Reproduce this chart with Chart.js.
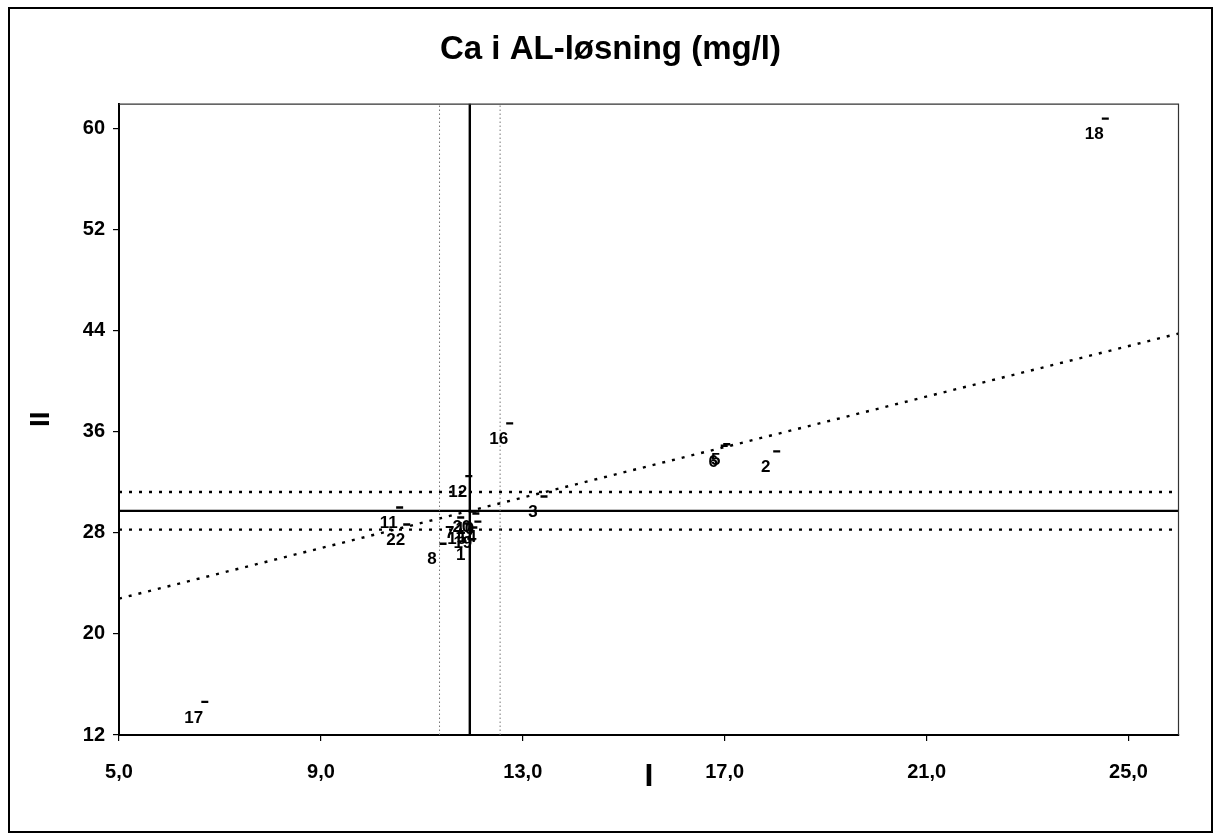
<!DOCTYPE html>
<html><head><meta charset="utf-8">
<script src="https://cdn.jsdelivr.net/npm/chart.js@4.4.1/dist/chart.umd.min.js"></script>
<style>html,body{margin:0;padding:0;background:#fff;} #wrap{position:relative;width:1221px;height:840px;}</style>
</head><body><div id="wrap"><canvas id="c" width="1221" height="840"></canvas></div>
<script>
// ---- data (Youden plot) ----
const labIds   = ['1','2','3','5','6','7','8','10','11','12','14','15','16','17','18','19','20','22'];
const valuesI  = [11.99,18.03,13.42,17.04,16.99,11.77,11.42,12.07,10.56,11.93,12.11,11.91,12.74,6.70,24.54,12.03,12.01,10.70];
const valuesII = [27.48,34.46,30.89,35.02,34.90,29.22,27.14,29.54,30.02,32.50,28.90,28.75,36.68,14.62,60.81,28.43,29.70,28.67];

const xTicks = [5,9,13,17,21,25];
const yTicks = [12,20,28,36,44,52,60];
const xRange = [5,26];
const yRange = [12,62];

const centerI = [11.95];          // solid vertical line
const limitsI = [11.35, 12.55];   // dotted vertical lines
const centerII = [29.75];         // solid horizontal line
const limitsII = [28.26, 31.24];  // dotted horizontal lines
const diagI  = [5, 26];           // 45-degree dotted line
const diagII = [22.8, 43.8];

const FONT = "'Liberation Sans', Arial, sans-serif";

function vLine(x, style){ return Object.assign({type:'scatter', showLine:true, pointRadius:0, data:[{x:x,y:yRange[0]},{x:x,y:yRange[1]}]}, style); }
function hLine(y, style){ return Object.assign({type:'scatter', showLine:true, pointRadius:0, data:[{x:xRange[0],y:y},{x:xRange[1],y:y}]}, style); }

const datasets = [{
  label:'labs',
  data: valuesI.map((v,i)=>({x:v, y:valuesII[i]})),
  pointStyle:'line', pointRadius:3.5, pointBorderWidth:2.4,
  borderColor:'#000', backgroundColor:'#000', showLine:false
}];
centerI.forEach(v=>datasets.push(vLine(v,{borderColor:'#000',borderWidth:2.4})));
limitsI.forEach(v=>datasets.push(vLine(v,{borderColor:'#777',borderWidth:1,borderDash:[1.5,2.5]})));
centerII.forEach(v=>datasets.push(hLine(v,{borderColor:'#000',borderWidth:2.2})));
limitsII.forEach(v=>datasets.push(hLine(v,{borderColor:'#000',borderWidth:2.4,borderDash:[3,7]})));
datasets.push({type:'scatter', showLine:true, pointRadius:0, borderColor:'#000', borderWidth:2.4, borderDash:[3,7],
  data: diagI.map((v,i)=>({x:v,y:diagII[i]}))});

const labelPlugin = {
  id:'pointLabels',
  afterDatasetsDraw(chart){
    const ctx = chart.ctx, meta = chart.getDatasetMeta(0);
    ctx.save();
    ctx.font = "bold 17px " + FONT;
    ctx.fillStyle = '#000'; ctx.textAlign='center'; ctx.textBaseline='middle';
    meta.data.forEach((el,i)=>{ ctx.fillText(labIds[i], el.x-11, el.y+16); });
    ctx.restore();
  }
};
const framePlugin = {
  id:'frame',
  afterDraw(chart){
    const ctx = chart.ctx, a = chart.chartArea;
    ctx.save();
    ctx.strokeStyle='#333'; ctx.lineWidth=1.2;
    ctx.beginPath(); ctx.moveTo(a.left, a.top+0.5); ctx.lineTo(a.right-0.5, a.top+0.5); ctx.lineTo(a.right-0.5, a.bottom); ctx.stroke();
    ctx.strokeStyle='#000'; ctx.lineWidth=2;
    ctx.strokeRect(9, 8, 1203, 824);
    ctx.restore();
  }
};

new Chart(document.getElementById('c'), {
  type:'scatter',
  data:{datasets},
  options:{
    responsive:false, animation:false, devicePixelRatio:1,
    layout:{padding:{left:0,right:0,top:0,bottom:0}},
    plugins:{
      legend:{display:false}, tooltip:{enabled:false},
      title:{display:true, text:'Ca i AL-løsning (mg/l)', color:'#000',
        font:{family:FONT, size:33, weight:'bold', lineHeight:1.2}, padding:{top:30,bottom:34}}
    },
    scales:{
      x:{type:'linear', min:xRange[0], max:xRange[1],
        afterFit(s){ s.height = 105; },
        afterBuildTicks(s){ s.ticks = xTicks.map(v=>({value:v})); },
        border:{display:true,color:'#000',width:2},
        grid:{display:true, drawOnChartArea:false, drawTicks:true, tickLength:6, color:'#000', lineWidth:1.2},
        ticks:{color:'#000', padding:19, maxRotation:0, font:{family:FONT,size:20,weight:'bold'},
          callback:v=>v.toFixed(1).replace('.',',')},
        title:{display:true, text:'I', color:'#000', font:{family:FONT,size:32,weight:'bold',lineHeight:1.2}, padding:{top:0,bottom:44}}
      },
      y:{type:'linear', min:yRange[0], max:yRange[1],
        afterFit(s){ s.width = 119; },
        afterBuildTicks(s){ s.ticks = yTicks.map(v=>({value:v})); },
        border:{display:true,color:'#000',width:2},
        grid:{display:true, drawOnChartArea:false, drawTicks:true, tickLength:6, color:'#000', lineWidth:1.2},
        ticks:{color:'#000', padding:8, font:{family:FONT,size:20,weight:'bold'}, callback:v=>String(v)},
        title:{display:true, text:'II', color:'#000', font:{family:FONT,size:28,weight:'bold',lineHeight:1.2}, padding:{top:24,bottom:0}}
      },
      yRight:{type:'linear', position:'right', min:yRange[0], max:yRange[1], display:true,
        afterFit(s){ s.width = 42; },
        border:{display:false}, grid:{display:false}, ticks:{display:false}
      }
    }
  },
  plugins:[labelPlugin, framePlugin]
});
</script></body></html>
